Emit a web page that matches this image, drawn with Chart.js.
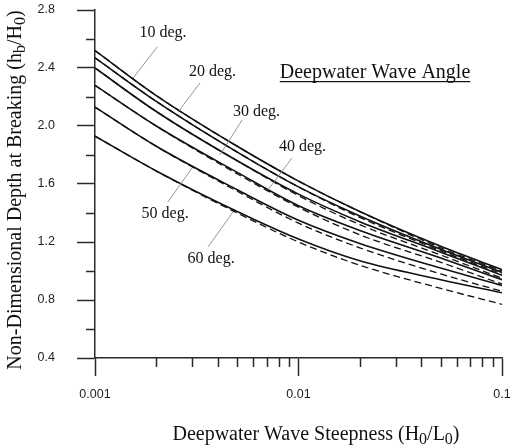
<!DOCTYPE html>
<html>
<head>
<meta charset="utf-8">
<script src="https://cdn.jsdelivr.net/npm/chart.js@4.4.0/dist/chart.umd.min.js"></script>
<style>
  html, body { margin: 0; padding: 0; background: #fff; }
  #wrap { width: 512px; height: 448px; position: relative; }
</style>
</head>
<body>
<div id="wrap"><canvas id="breakingChart"></canvas></div>
<script>
// Deepwater wave steepness H0/L0 (x axis, log)
const steepness = [0.001, 0.002, 0.005, 0.01, 0.02, 0.05, 0.1];

// Non-dimensional depth at breaking hb/H0, solid curves
const depth10 = [2.52, 2.21, 1.86, 1.62, 1.41, 1.17, 1.01];
const depth20 = [2.47, 2.17, 1.82, 1.58, 1.38, 1.15, 0.99];
const depth30 = [2.40, 2.10, 1.76, 1.53, 1.34, 1.13, 0.97];
const depth40 = [2.28, 2.00, 1.68, 1.45, 1.28, 1.09, 0.94];
const depth50 = [2.13, 1.86, 1.56, 1.35, 1.19, 1.02, 0.90];
const depth60 = [1.93, 1.69, 1.41, 1.22, 1.07, 0.94, 0.85];

// dashed curves
const approx10 = [2.52, 2.21, 1.86, 1.62, 1.41, 1.16, 1.00];
const approx20 = [2.47, 2.17, 1.82, 1.58, 1.37, 1.14, 0.98];
const approx30 = [2.40, 2.10, 1.76, 1.52, 1.32, 1.11, 0.95];
const approx40 = [2.28, 2.00, 1.67, 1.44, 1.25, 1.06, 0.91];
const approx50 = [2.13, 1.86, 1.55, 1.33, 1.16, 0.98, 0.86];
const approx60 = [1.93, 1.69, 1.40, 1.20, 1.04, 0.88, 0.77];

const angleLabels = ['10 deg.', '20 deg.', '30 deg.', '40 deg.', '50 deg.', '60 deg.'];
// label centre (x value, baseline y value) and leader line ends, in data units
const labelAt = [[0.00216, 2.614], [0.00378, 2.345], [0.00622, 2.069], [0.01047, 1.828], [0.00221, 1.366], [0.00372, 1.055]];
const leaderFrom = [[0.00202, 2.545], [0.00328, 2.297], [0.00528, 2.041], [0.00929, 1.779], [0.00228, 1.476], [0.00359, 1.166]];
const leaderTo = [[0.00154, 2.331], [0.00256, 2.097], [0.00411, 1.800], [0.00708, 1.559], [0.00300, 1.710], [0.00477, 1.407]];

const xTickValues = [0.001, 0.01, 0.1];
const xTickLabels = ['0.001', '0.01', '0.1'];
const xMinorSteps = [2, 3, 4, 5, 6, 7, 8, 9];

const axisColor = '#2a2a2a';
const serif = "'Liberation Serif', 'Times New Roman', serif";
const sans = "'Liberation Sans', Arial, sans-serif";

function toPoints(vals) {
    return steepness.map((s, i) => ({ x: s, y: vals[i] }));
}

function solidSet(vals) {
    return { data: toPoints(vals), borderColor: '#111', borderWidth: 1.6, pointRadius: 0, cubicInterpolationMode: 'monotone', fill: false };
}

function dashedSet(vals) {
    return { data: toPoints(vals), borderColor: '#111', borderWidth: 1.3, borderDash: [7, 4], pointRadius: 0, cubicInterpolationMode: 'monotone', fill: false };
}

function isMajorX(v) {
    return xTickValues.some(m => Math.abs(m - v) / m < 1e-6);
}

// no extra room for overflowing tick labels, the layout padding does it
function noPadding(scale) {
    scale.paddingTop = 0;
    scale.paddingBottom = 0;
    scale.paddingLeft = 0;
    scale.paddingRight = 0;
}

// draw text with subscripts, parts = [[text, isSub], ...]
function drawRich(ctx, parts, cx, baseY, size) {
    const subSize = Math.round(size * 0.78);
    let total = 0;
    parts.forEach(p => {
        ctx.font = (p[1] ? subSize : size) + 'px ' + serif;
        total += ctx.measureText(p[0]).width;
    });
    let x = cx - total / 2;
    parts.forEach(p => {
        ctx.font = (p[1] ? subSize : size) + 'px ' + serif;
        ctx.fillText(p[0], x, baseY + (p[1] ? 4 : 0));
        x += ctx.measureText(p[0]).width;
    });
}

const overlay = {
    id: 'overlay',
    afterDraw(chart) {
        const { ctx } = chart;
        const xs = chart.scales.x, ys = chart.scales.y;
        ctx.save();

        // minor tick marks
        ctx.strokeStyle = axisColor;
        ctx.lineWidth = 1.5;
        ctx.beginPath();
        xs.ticks.forEach(t => {
            if (!isMajorX(t.value)) {
                const px = Math.round(xs.getPixelForValue(t.value)) + 0.5;
                ctx.moveTo(px, ys.bottom);
                ctx.lineTo(px, ys.bottom + 9);
            }
        });
        ys.ticks.forEach((t, i) => {
            if (i % 2 === 1) {
                const py = Math.round(ys.getPixelForValue(t.value)) + 0.5;
                ctx.moveTo(xs.left - 9, py);
                ctx.lineTo(xs.left, py);
            }
        });
        ctx.stroke();

        // leader lines
        ctx.strokeStyle = '#8a8a8a';
        ctx.lineWidth = 0.9;
        ctx.beginPath();
        leaderFrom.forEach((f, i) => {
            ctx.moveTo(xs.getPixelForValue(f[0]), ys.getPixelForValue(f[1]));
            ctx.lineTo(xs.getPixelForValue(leaderTo[i][0]), ys.getPixelForValue(leaderTo[i][1]));
        });
        ctx.stroke();

        // angle labels
        ctx.fillStyle = '#111';
        ctx.font = '16px ' + serif;
        ctx.textAlign = 'center';
        ctx.textBaseline = 'alphabetic';
        angleLabels.forEach((lab, i) => {
            ctx.fillText(lab, xs.getPixelForValue(labelAt[i][0]), ys.getPixelForValue(labelAt[i][1]));
        });

        // heading, underlined
        ctx.font = '20px ' + serif;
        const head = 'Deepwater Wave Angle';
        const hx = xs.getPixelForValue(0.02377), hy = ys.getPixelForValue(2.331);
        ctx.fillText(head, hx, hy);
        const hw = ctx.measureText(head).width;
        ctx.fillRect(hx - hw / 2, hy + 3, hw, 1.2);

        // axis titles
        ctx.textAlign = 'left';
        drawRich(ctx, [['Deepwater Wave Steepness (H', false], ['0', true], ['/L', false], ['0', true], [')', false]], 316, 440, 20);

        ctx.translate(21, 190);
        ctx.rotate(-Math.PI / 2);
        drawRich(ctx, [['Non-Dimensional Depth at Breaking (h', false], ['b', true], ['/H', false], ['0', true], [')', false]], 0, 0, 20);
        ctx.restore();
    }
};

new Chart(document.getElementById('breakingChart'), {
    type: 'line',
    data: {
        datasets: [
            dashedSet(approx10), dashedSet(approx20), dashedSet(approx30),
            dashedSet(approx40), dashedSet(approx50), dashedSet(approx60),
            solidSet(depth10), solidSet(depth20), solidSet(depth30),
            solidSet(depth40), solidSet(depth50), solidSet(depth60)
        ]
    },
    options: {
        responsive: true,
        maintainAspectRatio: false,
        animation: false,
        layout: { padding: { top: 10, right: 10, left: 0, bottom: 0 } },
        plugins: { legend: { display: false }, tooltip: { enabled: false } },
        scales: {
            x: {
                type: 'logarithmic',
                min: 0.001,
                max: 0.1,
                afterBuildTicks(scale) {
                    const vals = [];
                    [0.001, 0.01].forEach(d => {
                        vals.push(d);
                        xMinorSteps.forEach(s => vals.push(+(d * s).toPrecision(3)));
                    });
                    vals.push(0.1);
                    scale.ticks = vals.map(v => ({ value: v, major: isMajorX(v) }));
                },
                afterFit(scale) {
                    scale.height = 90;
                    noPadding(scale);
                },
                grid: {
                    display: true,
                    drawOnChartArea: false,
                    drawTicks: true,
                    tickLength: 18,
                    tickWidth: 1.5,
                    tickColor: ctx => (ctx.tick && isMajorX(ctx.tick.value)) ? axisColor : 'rgba(0,0,0,0)'
                },
                border: { display: true, color: axisColor, width: 1.5 },
                ticks: {
                    autoSkip: false,
                    maxRotation: 0,
                    padding: 11,
                    color: '#222',
                    font: { family: sans, size: 12.5 },
                    callback: function(v) {
                        const i = xTickValues.findIndex(m => Math.abs(m - v) / m < 1e-6);
                        return i >= 0 ? xTickLabels[i] : '';
                    }
                }
            },
            y: {
                min: 0.4,
                max: 2.8,
                afterFit(scale) {
                    scale.width = 95;
                    noPadding(scale);
                },
                grid: {
                    display: true,
                    drawOnChartArea: false,
                    drawTicks: true,
                    tickLength: 18,
                    tickWidth: 1.5,
                    tickColor: ctx => (ctx.index % 2 === 0) ? axisColor : 'rgba(0,0,0,0)'
                },
                border: { display: true, color: axisColor, width: 1.5 },
                ticks: {
                    stepSize: 0.2,
                    padding: 22,
                    color: '#222',
                    font: { family: sans, size: 12.5 },
                    callback: (v, i) => (i % 2 === 0) ? v.toFixed(1) : ''
                }
            }
        }
    },
    plugins: [overlay]
});
</script>
</body>
</html>
